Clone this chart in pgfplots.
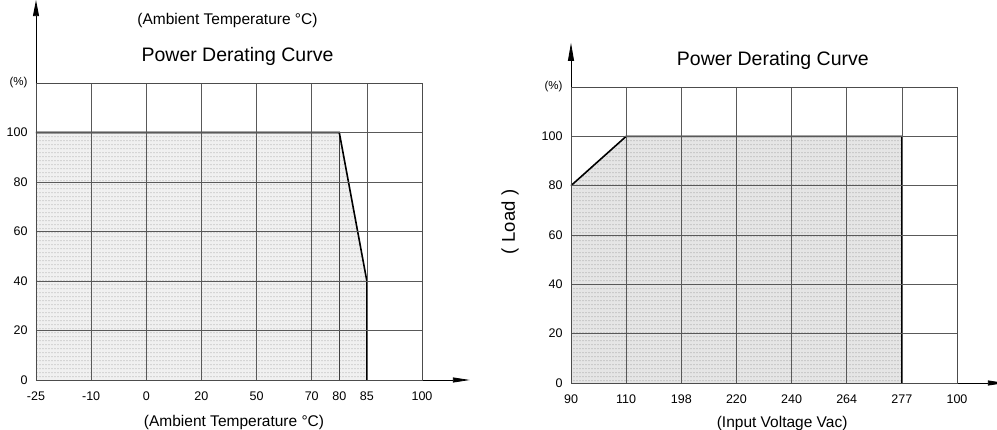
\documentclass[border=0pt]{standalone}
\usepackage{pgfplots}
\pgfplotsset{compat=1.18}
\usepackage{fontspec}
\setmainfont{Liberation Sans}
\usetikzlibrary{arrows.meta,patterns}

% rows of fine dots, like the printed screen tint
\pgfdeclarepatternformonly{screendots}{\pgfpointorigin}{\pgfpoint{3pt}{4pt}}{\pgfpoint{3pt}{4pt}}{%
  \pgfpathrectangle{\pgfpoint{0.8pt}{1.2pt}}{\pgfpoint{1.1pt}{1.1pt}}%
  \pgfusepath{fill}}

\pgfplotsset{
  derating/.style={
    scale only axis,
    width=386pt,
    xmin=0, xmax=7,
    ymin=0, ymax=120,
    xtick={0,1,...,7},
    ytick={0,20,...,120},
    yticklabels={0,20,40,60,80,100,{\fontsize{11.5}{11.5}\selectfont(\%)}},
    grid=major,
    major grid style={black!65, line width=0.7pt},
    axis line style={black!70, line width=0.8pt},
    major tick length=0pt,
    axis on top,
    clip=false,
    /pgf/number format/assume math mode=true,
    tick label style={font=\fontsize{12.5}{12.5}\selectfont},
    xticklabel style={yshift=-8pt},
    yticklabel style={xshift=-5pt},
  },
  curve/.style={black, line width=1.6pt, no marks},
  shade/.style={draw=none, no marks},
}

\begin{document}
\begin{tikzpicture}
\useasboundingbox (0,0) rectangle (997pt,430pt);

% temperature derating
\begin{axis}[derating,
  at={(36pt,50pt)}, anchor=south west, height=297pt,
  extra x ticks={5.5}, extra x tick labels={80},
  extra x tick style={grid=none},
  xticklabels={-25,-10,0,20,50,70,85,100},
]
\addplot[shade, fill=black!6] coordinates {(0,0) (0,100) (5.5,100) (6,40) (6,0)} \closedcycle;
\addplot[shade, pattern=screendots, pattern color=black!35] coordinates {(0,0) (0,100) (5.5,100) (6,40) (6,0)} \closedcycle;
\addplot[black!75, line width=0.8pt, no marks] coordinates {(5.5,0) (5.5,100)};
\addplot[curve] coordinates {(0,100) (5.5,100) (6,40) (6,0)};
\draw[black, line width=0.8pt, -{Triangle[length=16pt,width=6pt]}] (rel axis cs:0,0) -- (rel axis cs:0,1.279);
\draw[black, line width=0.8pt, -{Triangle[length=17pt,width=5pt]}] (rel axis cs:0.03,0) -- (rel axis cs:1.124,0);
\node[font=\fontsize{15.5}{15.5}\selectfont] at (rel axis cs:0.496,1.209) {(Ambient Temperature °C)};
\node[font=\fontsize{19.5}{19.5}\selectfont] at (rel axis cs:0.522,1.088) {Power Derating Curve};
\node[font=\fontsize{15.5}{15.5}\selectfont, anchor=base] at (rel axis cs:0.513,-0.158) {(Ambient Temperature °C)};
\end{axis}

% input voltage derating
\begin{axis}[derating,
  at={(571pt,47pt)}, anchor=south west, height=296pt,
  xticklabels={90,110,198,220,240,264,277,100},
]
\addplot[shade, fill=black!10] coordinates {(0,0) (0,80) (1,100) (6,100) (6,0)} \closedcycle;
\addplot[shade, pattern=screendots, pattern color=black!40] coordinates {(0,0) (0,80) (1,100) (6,100) (6,0)} \closedcycle;
\addplot[curve] coordinates {(0,80) (1,100) (6,100) (6,0)};
\draw[black, line width=0.8pt, -{Triangle[length=18pt,width=6pt]}] (rel axis cs:0,0) -- (rel axis cs:0,1.149);
\draw[black, line width=0.8pt, -{Triangle[length=17pt,width=5pt]}] (rel axis cs:0,0) -- (rel axis cs:1.124,0);
\node[font=\fontsize{19.5}{19.5}\selectfont] at (rel axis cs:0.523,1.088) {Power Derating Curve};
\node[font=\fontsize{18.5}{18.5}\selectfont, rotate=90] at (rel axis cs:-0.158,0.544) {(\,\,Load\,\,)};
\node[font=\fontsize{15.5}{15.5}\selectfont, anchor=base] at (rel axis cs:0.547,-0.152) {(Input Voltage Vac)};
\end{axis}
\end{tikzpicture}
\end{document}
